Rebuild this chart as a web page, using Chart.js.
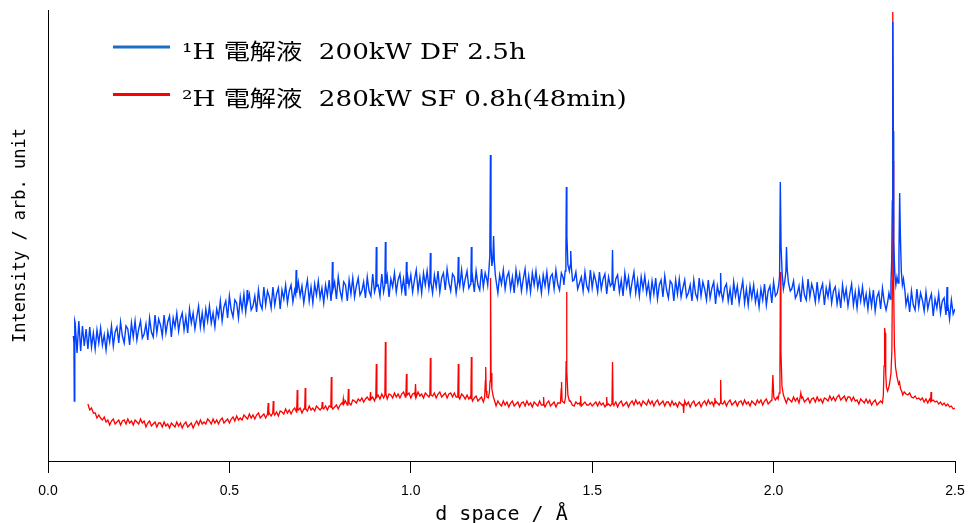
<!DOCTYPE html>
<html>
<head>
<meta charset="utf-8">
<script src="https://cdn.jsdelivr.net/npm/chart.js@4.4.1/dist/chart.umd.min.js"></script>
<style>
  html, body { margin: 0; padding: 0; background: #fff; overflow: hidden; }
  #wrap { width: 968px; height: 523px; position: relative; }
</style>
</head>
<body>
<div id="wrap"><canvas id="myChart"></canvas></div>
<script>
// legend labels
const seriesLabels = ['\u00b9H 電解液  200kW DF 2.5h', '\u00b2H 電解液  280kW SF 0.8h(48min)'];
const xTicks = [0, 0.5, 1.0, 1.5, 2.0, 2.5];

// baseline readings, one value every 0.005 Å (20 per line = 0.1 Å)
const gridStep = 0.005;
const blueStart = 0.07;
const blueBase = [
  125, 138, 108, 140, 110, 135, 115, 132, 112, 134, 114, 128, 112, 131, 118, 133, 116, 126, 111, 129,
  119, 135, 115, 129, 134, 118, 139, 125, 118, 135, 132, 116, 138, 124, 140, 121, 132, 140, 123, 127,
  137, 121, 143, 129, 124, 146, 128, 142, 136, 125, 146, 128, 139, 145, 124, 143, 134, 148, 130, 142,
  148, 131, 144, 128, 152, 138, 148, 132, 144, 155, 134, 148, 133, 152, 140, 155, 138, 148, 134, 152,
  144, 160, 140, 154, 160, 143, 165, 151, 144, 161, 158, 143, 164, 151, 167, 149, 159, 167, 151, 155,
  165, 149, 171, 157, 152, 174, 156, 170, 164, 153, 174, 156, 167, 173, 152, 171, 162, 176, 158, 170,
  176, 159, 171, 156, 179, 165, 175, 158, 171, 181, 160, 174, 158, 177, 166, 180, 163, 173, 158, 176,
  165, 181, 160, 174, 179, 162, 184, 170, 162, 179, 176, 160, 181, 167, 183, 164, 175, 183, 166, 170,
  179, 163, 184, 170, 165, 187, 169, 183, 176, 165, 187, 169, 179, 185, 164, 182, 174, 188, 169, 181,
  187, 170, 182, 166, 189, 175, 186, 169, 181, 191, 170, 184, 168, 188, 176, 190, 173, 183, 168, 186,
  174, 190, 169, 183, 188, 171, 192, 178, 170, 187, 184, 168, 189, 175, 191, 172, 182, 190, 173, 177,
  185, 169, 190, 176, 171, 192, 174, 188, 181, 170, 191, 173, 183, 189, 168, 186, 177, 191, 172, 184,
  189, 172, 184, 168, 191, 177, 187, 170, 182, 192, 171, 185, 169, 188, 176, 190, 173, 183, 168, 186,
  175, 189, 170, 184, 187, 172, 191, 177, 171, 188, 183, 169, 190, 174, 190, 173, 181, 189, 172, 178,
  184, 170, 189, 175, 170, 191, 173, 187, 180, 169, 189, 172, 182, 187, 167, 184, 175, 189, 170, 182,
  186, 169, 181, 165, 188, 174, 184, 167, 179, 189, 168, 181, 165, 184, 172, 185, 168, 178, 162, 180,
  167, 183, 162, 176, 181, 164, 185, 171, 163, 180, 177, 160, 181, 167, 182, 164, 173, 181, 164, 168,
  176, 160, 181, 167, 162, 183, 165, 179, 172, 161, 181, 163, 173, 179, 157, 175, 166, 180, 161, 173,
  177, 160, 172, 156, 179, 165, 175, 158, 170, 180, 158, 172, 156, 175, 163, 176, 159, 169, 154, 172,
  161, 177, 156, 170, 175, 158, 179, 165, 157, 175, 172, 157, 178, 164, 180, 162, 172, 180, 163, 167,
  175, 159, 180, 166, 161, 182, 164, 177, 170, 159, 179, 161, 171, 177, 156, 173, 164, 177, 158, 170,
  174, 157, 169, 153, 176, 162, 172, 155, 167, 177, 156, 169, 153, 172, 160, 174, 157, 167, 152, 169,
  155, 171, 150, 164, 169, 152, 173, 159, 151, 168, 164, 149, 169, 155, 170, 152, 161, 169, 152, 156,
  165, 149, 170, 156, 151, 172, 154, 168, 161, 150, 169, 152, 161, 167, 145, 162, 153, 167, 148, 160,
  163, 146, 158, 142, 161, 147, 152
];
const redStart = 0.11;
const redBase = [
  57, 51, 53, 48, 48, 43, 46, 43, 41, 44, 39, 41, 36, 40, 42, 37, 39, 41, 36, 40,
  41, 37, 42, 38, 40, 36, 41, 39, 37, 42, 38, 40, 34, 38, 40, 35, 37, 39, 34, 38,
  38, 34, 39, 35, 37, 33, 38, 36, 34, 39, 35, 38, 33, 37, 39, 34, 36, 38, 33, 37,
  40, 36, 41, 37, 39, 37, 42, 40, 37, 42, 38, 41, 37, 41, 43, 38, 40, 42, 38, 42,
  44, 40, 45, 41, 43, 41, 46, 44, 42, 47, 43, 46, 42, 46, 48, 43, 45, 47, 43, 47,
  48, 45, 50, 46, 49, 45, 50, 49, 47, 52, 48, 51, 47, 51, 53, 49, 51, 53, 48, 52,
  54, 50, 55, 51, 53, 50, 55, 53, 51, 56, 52, 55, 51, 55, 57, 52, 54, 56, 52, 56,
  58, 54, 60, 56, 58, 56, 61, 60, 58, 62, 60, 63, 59, 62, 64, 61, 62, 64, 60, 64,
  66, 62, 67, 63, 65, 62, 67, 66, 63, 68, 64, 67, 63, 67, 69, 64, 66, 68, 63, 67,
  68, 64, 69, 65, 67, 63, 68, 66, 64, 69, 65, 68, 63, 67, 69, 64, 66, 68, 63, 67,
  68, 64, 68, 64, 66, 62, 67, 65, 62, 66, 62, 65, 60, 63, 65, 60, 62, 64, 59, 63,
  64, 60, 63, 58, 59, 55, 60, 57, 55, 60, 56, 59, 54, 58, 60, 55, 57, 59, 54, 58,
  59, 55, 60, 56, 58, 54, 59, 57, 55, 60, 56, 59, 54, 58, 60, 55, 57, 59, 54, 58,
  58, 56, 59, 55, 58, 55, 60, 56, 55, 59, 57, 58, 55, 57, 59, 56, 56, 58, 55, 57,
  59, 55, 59, 56, 58, 54, 59, 57, 55, 60, 56, 59, 54, 58, 60, 55, 57, 59, 54, 58,
  60, 56, 61, 57, 59, 55, 60, 58, 56, 61, 57, 60, 55, 59, 61, 56, 58, 60, 55, 59,
  59, 55, 60, 56, 58, 54, 59, 57, 55, 60, 56, 59, 54, 58, 60, 55, 57, 59, 54, 58,
  60, 56, 61, 57, 59, 55, 60, 58, 56, 61, 57, 60, 55, 59, 61, 56, 58, 60, 55, 59,
  60, 56, 61, 57, 59, 55, 60, 58, 56, 61, 58, 61, 56, 60, 62, 57, 59, 61, 57, 61,
  64, 60, 65, 61, 62, 58, 63, 61, 59, 64, 60, 63, 58, 62, 64, 59, 61, 63, 58, 62,
  63, 59, 64, 60, 62, 58, 63, 62, 60, 65, 61, 64, 60, 64, 66, 61, 63, 65, 60, 64,
  64, 60, 64, 60, 61, 57, 62, 60, 58, 62, 58, 61, 56, 59, 61, 56, 58, 60, 55, 58,
  70, 72, 75, 78, 90, 200, 100, 85, 78, 76, 69, 67, 66, 68, 64, 63, 65, 62, 63, 61,
  63, 59, 62, 58, 62, 58, 61, 59, 60, 57, 59, 56, 58, 55, 57, 54, 55, 52, 53
];

// peaks: groups of [d, intensity]
const bluePeaks = [
  [[0.0715, 118], [0.0725, 60], [0.0738, 140]],
  [[0.5475, 158], [0.549, 171], [0.5505, 160]],
  [[0.6825, 167], [0.684, 191], [0.6855, 168]],
  [[0.7825, 171], [0.784, 199], [0.7855, 172]],
  [[0.9035, 174], [0.905, 214], [0.9065, 175]],
  [[0.9285, 176], [0.930, 219], [0.9315, 177]],
  [[0.9865, 178], [0.988, 199], [0.9895, 177]],
  [[1.0525, 180], [1.054, 208], [1.0555, 179]],
  [[1.1295, 180], [1.131, 204], [1.1325, 181]],
  [[1.1655, 180], [1.167, 214], [1.1685, 179]],
  [[1.212, 176], [1.2155, 192], [1.2178, 205], [1.2195, 306], [1.221, 215], [1.2235, 195],
   [1.2262, 202], [1.2282, 225], [1.2302, 200], [1.233, 186], [1.236, 178]],
  [[1.422, 176], [1.4255, 190], [1.4275, 205], [1.4288, 274], [1.4302, 225], [1.433, 196],
   [1.437, 190], [1.4395, 196], [1.4408, 210], [1.4425, 194], [1.446, 180]],
  [[1.5545, 178], [1.556, 211], [1.5575, 177]],
  [[1.8525, 170], [1.854, 188], [1.8555, 169]],
  [[2.010, 168], [2.014, 176], [2.0165, 185], [2.0185, 279], [2.0205, 215], [2.0235, 188],
   [2.027, 172], [2.031, 180], [2.034, 190], [2.0355, 214], [2.0375, 192], [2.041, 178], [2.046, 170]],
  [[2.314, 158], [2.318, 168], [2.321, 162], [2.3235, 178], [2.3255, 200], [2.3272, 260],
   [2.3285, 439], [2.3298, 330], [2.331, 220], [2.334, 188], [2.337, 176], [2.340, 184],
   [2.343, 178], [2.3455, 205], [2.3475, 268], [2.3495, 225], [2.352, 190], [2.355, 176],
   [2.358, 182], [2.362, 170]],
  [[2.4765, 152], [2.478, 174], [2.4795, 150]]
];
const redPeaks = [
  [[0.6055, 47], [0.607, 58], [0.6085, 47]],
  [[0.6195, 48], [0.621, 60], [0.6225, 48]],
  [[0.6855, 51], [0.687, 71], [0.6885, 51]],
  [[0.7075, 52], [0.709, 73], [0.7105, 52]],
  [[0.7545, 53], [0.756, 59], [0.7575, 53]],
  [[0.7795, 54], [0.781, 84], [0.7825, 54]],
  [[0.8125, 57], [0.814, 62], [0.8155, 57]],
  [[0.8265, 58], [0.828, 72], [0.8295, 58]],
  [[0.8875, 62], [0.889, 69], [0.8905, 62]],
  [[0.9035, 64], [0.905, 97], [0.9065, 64]],
  [[0.9285, 66], [0.930, 119], [0.9315, 67]],
  [[0.9865, 66], [0.988, 87], [0.9895, 66]],
  [[1.0115, 66], [1.013, 77], [1.0145, 66]],
  [[1.0525, 66], [1.054, 103], [1.0555, 66]],
  [[1.1295, 64], [1.131, 97], [1.1325, 64]],
  [[1.1655, 62], [1.167, 104], [1.1685, 62]],
  [[1.2035, 63], [1.2055, 80], [1.2065, 94], [1.208, 70], [1.2095, 64]],
  [[1.2135, 63], [1.2165, 68], [1.2185, 80], [1.2198, 183], [1.2212, 88], [1.2235, 72], [1.227, 65], [1.231, 60]],
  [[1.3645, 56], [1.366, 64], [1.3675, 56]],
  [[1.4125, 58], [1.4145, 72], [1.4155, 79], [1.417, 60]],
  [[1.4235, 58], [1.4265, 64], [1.4282, 100], [1.4292, 169], [1.4305, 90], [1.433, 66], [1.437, 60]],
  [[1.4665, 56], [1.468, 65], [1.4695, 56]],
  [[1.5385, 56], [1.540, 64], [1.5415, 56]],
  [[1.5545, 57], [1.556, 99], [1.5575, 57]],
  [[1.7505, 57], [1.752, 48], [1.7535, 57]],
  [[1.8365, 58], [1.838, 63], [1.8395, 58]],
  [[1.8525, 58], [1.854, 81], [1.8555, 58]],
  [[1.9955, 62], [1.998, 86], [2.0005, 64]],
  [[2.0125, 62], [2.0155, 68], [2.0175, 95], [2.0188, 189], [2.0202, 110], [2.023, 75], [2.027, 66], [2.031, 62]],
  [[2.0725, 62], [2.075, 68], [2.0775, 63]],
  [[2.296, 60], [2.300, 58], [2.3025, 66], [2.3045, 95], [2.306, 133], [2.3075, 128], [2.309, 88],
   [2.311, 74], [2.314, 70], [2.317, 73], [2.320, 78], [2.3235, 88], [2.326, 110], [2.3275, 180],
   [2.3285, 449], [2.3298, 300], [2.331, 170], [2.333, 115], [2.336, 94], [2.340, 84],
   [2.3445, 77], [2.347, 79], [2.350, 72], [2.353, 70], [2.356, 66]],
  [[2.4325, 60], [2.434, 69], [2.4355, 60]]
];

const seriesColors = ['#0040ff', '#ff0000'];
const legendColors = ['#1c6fc6', '#ff0000'];

function buildSeries(start, base, peaks) {
  const pts = [];
  base.forEach((v, i) => {
    const d = +(start + i * gridStep).toFixed(4);
    const covered = peaks.some(g => d >= g[0][0] && d <= g[g.length - 1][0]);
    if (!covered) pts.push({ x: d, y: v });
  });
  peaks.forEach(g => g.forEach(p => pts.push({ x: p[0], y: p[1] })));
  return pts.sort((a, b) => a.x - b.x);
}

// legend drawn inside the plot, stacked
const insideLegend = {
  id: 'insideLegend',
  afterDraw(chart) {
    const ctx = chart.ctx;
    ctx.save();
    chart.data.datasets.forEach((ds, i) => {
      const y = 47 + i * 47.5;
      ctx.strokeStyle = legendColors[i];
      ctx.lineWidth = 3;
      ctx.beginPath();
      ctx.moveTo(113, y);
      ctx.lineTo(170, y);
      ctx.stroke();
      ctx.save();
      ctx.translate(182, y + 11.5);
      ctx.scale(1.19, 1);
      ctx.fillStyle = '#000';
      ctx.textBaseline = 'alphabetic';
      ctx.font = '22px "DejaVu Serif", "Noto Sans CJK JP", serif';
      ctx.fillText(ds.label, 0, 0);
      ctx.restore();
    });
    ctx.restore();
  }
};

const ctx = document.getElementById('myChart');
new Chart(ctx, {
  type: 'line',
  data: {
    datasets: [
      {
        label: seriesLabels[0],
        data: buildSeries(blueStart, blueBase, bluePeaks),
        borderColor: seriesColors[0],
        borderWidth: 1.4,
        pointRadius: 0,
        tension: 0
      },
      {
        label: seriesLabels[1],
        data: buildSeries(redStart, redBase, redPeaks),
        borderColor: seriesColors[1],
        borderWidth: 1.3,
        pointRadius: 0,
        tension: 0
      }
    ]
  },
  options: {
    responsive: true,
    maintainAspectRatio: false,
    animation: false,
    events: [],
    layout: { padding: { top: 10, right: 13, left: 0, bottom: 0 } },
    plugins: {
      legend: { display: false },
      tooltip: { enabled: false }
    },
    scales: {
      x: {
        type: 'linear',
        min: 0,
        max: 2.5,
        afterBuildTicks: scale => { scale.ticks = xTicks.map(v => ({ value: v })); },
        afterFit: scale => {
          scale.height = 62;
          scale.paddingLeft = 0;
          scale.paddingRight = 0;
        },
        ticks: {
          color: '#000',
          maxRotation: 0,
          padding: 10,
          font: { family: '"Liberation Sans", Arial, sans-serif', size: 14 },
          callback: v => Number(v).toFixed(1)
        },
        grid: { drawOnChartArea: false, drawTicks: true, tickLength: 12, color: '#000' },
        border: { display: true, color: '#000', width: 1 },
        title: {
          display: true,
          text: 'd space / Å',
          color: '#000',
          font: { family: '"DejaVu Sans Mono", monospace', size: 20, lineHeight: 1 },
          padding: { top: 0, bottom: -2 }
        }
      },
      y: {
        min: 0,
        max: 451,
        afterFit: scale => { scale.width = 48; },
        ticks: { display: false },
        grid: { drawOnChartArea: false, drawTicks: false },
        border: { display: true, color: '#000', width: 1 },
        title: {
          display: true,
          text: 'Intensity / arb. unit',
          color: '#000',
          font: { family: '"DejaVu Sans Mono", monospace', size: 17 },
          padding: { top: 10, bottom: 0 }
        }
      }
    }
  },
  plugins: [insideLegend]
});
</script>
</body>
</html>
